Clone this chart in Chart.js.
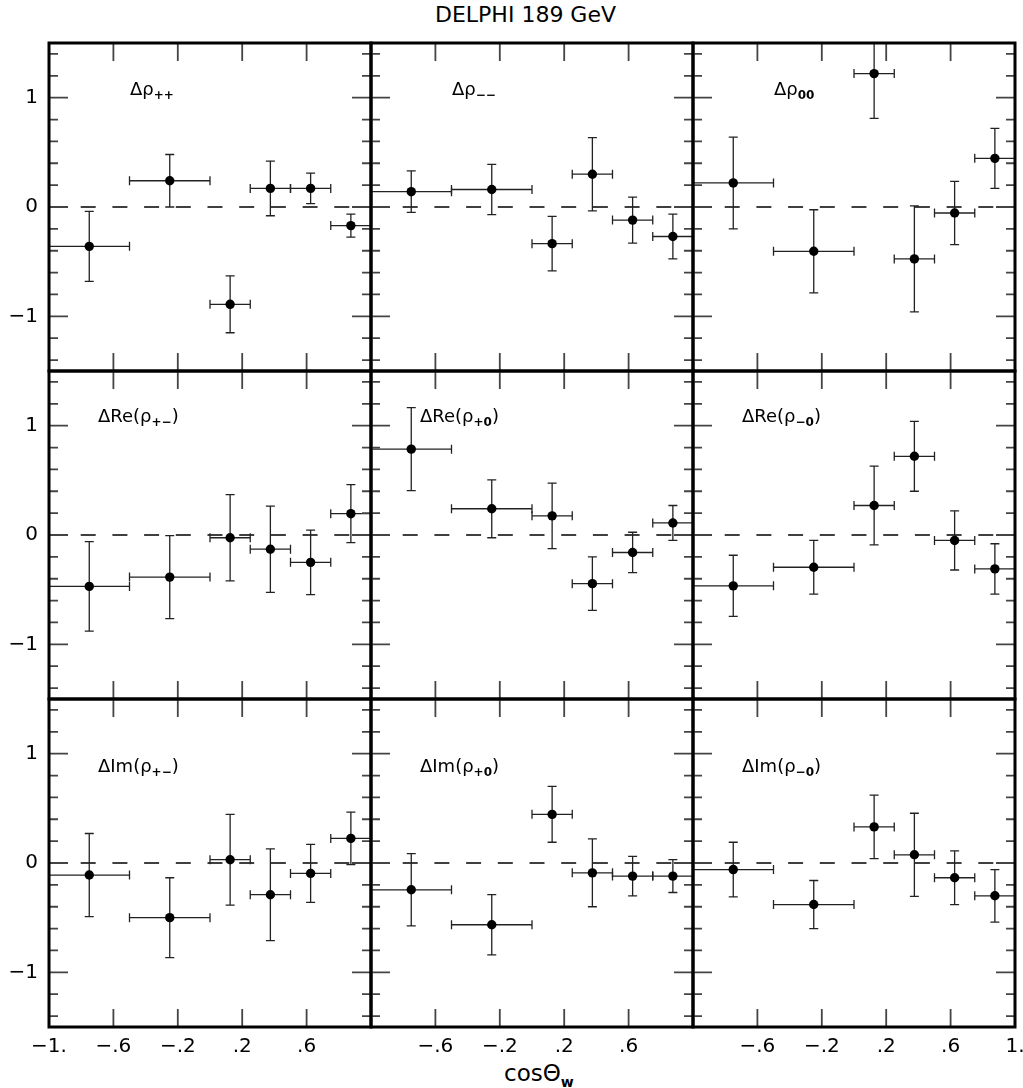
<!DOCTYPE html>
<html>
<head>
<meta charset="utf-8">
<script src="https://cdn.jsdelivr.net/npm/chart.js@4/dist/chart.umd.min.js"></script>
<style>
  body { margin: 0; background: #fff; }
  #fig { position: relative; width: 1023px; height: 1088px; font-family: "DejaVu Sans", sans-serif; color: #000; }
  #fig canvas { position: absolute; }
  .lbl { position: absolute; font-size: 18px; line-height: 18px; white-space: nowrap; }
  .lbl sub { font-size: 12px; font-weight: bold; vertical-align: baseline; position: relative; top: 0.35em; }
  #title { position: absolute; left: 435px; top: 4px; font-size: 22px; line-height: 22px; }
  #xtitle { position: absolute; left: 504px; top: 1062px; font-size: 23px; line-height: 23px; }
  #xtitle sub { font-size: 14px; font-weight: bold; vertical-align: baseline; position: relative; top: 0.4em; }
</style>
</head>
<body>
<div id="fig">
  <div id="title">DELPHI 189 GeV</div>
  <div id="xtitle">cosΘ<sub>w</sub></div>
</div>
<script>
// cos(theta_W) bins
const binLo = [-1, -0.5, 0, 0.25, 0.5, 0.75];
const binHi = [-0.5, 0, 0.25, 0.5, 0.75, 1];
const binMid = [-0.75, -0.25, 0.125, 0.375, 0.625, 0.875];

const xTickValues = [-1, -0.6, -0.2, 0.2, 0.6, 1];
const yTickValues = [-1.4, -1.2, -1, -0.8, -0.6, -0.4, -0.2, 0, 0.2, 0.4, 0.6, 0.8, 1, 1.2, 1.4];
const yTickLabels = { '-1': '−1', '0': '0', '1': '1' };

const rhoPP = [-0.36, 0.24, -0.89, 0.17, 0.17, -0.17];
const rhoPPErr = [0.32, 0.24, 0.26, 0.25, 0.14, 0.105];
const rhoMM = [0.14, 0.16, -0.335, 0.30, -0.12, -0.27];
const rhoMMErr = [0.19, 0.23, 0.25, 0.335, 0.21, 0.205];
const rho00 = [0.22, -0.405, 1.22, -0.475, -0.055, 0.445];
const rho00Err = [0.42, 0.38, 0.41, 0.485, 0.29, 0.275];

const reRhoPM = [-0.47, -0.385, -0.025, -0.13, -0.25, 0.195];
const reRhoPMErr = [0.41, 0.38, 0.395, 0.395, 0.295, 0.265];
const reRhoP0 = [0.785, 0.24, 0.175, -0.445, -0.16, 0.11];
const reRhoP0Err = [0.38, 0.265, 0.30, 0.245, 0.185, 0.16];
const reRhoM0 = [-0.465, -0.295, 0.27, 0.72, -0.05, -0.31];
const reRhoM0Err = [0.28, 0.245, 0.36, 0.32, 0.27, 0.23];

const imRhoPM = [-0.11, -0.50, 0.03, -0.29, -0.095, 0.225];
const imRhoPMErr = [0.38, 0.365, 0.415, 0.42, 0.265, 0.24];
const imRhoP0 = [-0.245, -0.565, 0.445, -0.09, -0.12, -0.12];
const imRhoP0Err = [0.33, 0.275, 0.255, 0.31, 0.18, 0.15];
const imRhoM0 = [-0.06, -0.38, 0.33, 0.075, -0.135, -0.30];
const imRhoM0Err = [0.25, 0.22, 0.29, 0.38, 0.245, 0.24];

const panelLabels = [
  'Δρ<sub>++</sub>', 'Δρ<sub>−−</sub>', 'Δρ<sub>00</sub>',
  'ΔRe(ρ<sub>+−</sub>)', 'ΔRe(ρ<sub>+0</sub>)', 'ΔRe(ρ<sub>−0</sub>)',
  'ΔIm(ρ<sub>+−</sub>)', 'ΔIm(ρ<sub>+0</sub>)', 'ΔIm(ρ<sub>−0</sub>)'
];
const panelValues = [rhoPP, rhoMM, rho00, reRhoPM, reRhoP0, reRhoM0, imRhoPM, imRhoP0, imRhoM0];
const panelErrors = [rhoPPErr, rhoMMErr, rho00Err, reRhoPMErr, reRhoP0Err, reRhoM0Err, imRhoPMErr, imRhoP0Err, imRhoM0Err];

const FIG_LEFT = 49, FIG_TOP = 43, PANEL_W = 322, PANEL_H = 328;
const AXIS_W = 50, AXIS_H = 56, PAD_TOP = 6, PAD_RIGHT = 20;
const labelOffset = [[81, 37], [49, 36], [49, 58]];

const errorBars = {
  id: 'errorBars',
  beforeDatasetsDraw(chart) {
    const { ctx, chartArea: a, scales: { x, y } } = chart;
    ctx.save();
    ctx.beginPath();
    ctx.rect(a.left, a.top, a.right - a.left, a.bottom - a.top);
    ctx.clip();

    const y0 = y.getPixelForValue(0);
    ctx.setLineDash([15, 16.7]);
    ctx.strokeStyle = '#000';
    ctx.lineWidth = 1.5;
    ctx.beginPath();
    ctx.moveTo(a.left, y0);
    ctx.lineTo(a.right, y0);
    ctx.stroke();
    ctx.setLineDash([]);

    const cap = 4.5;
    ctx.strokeStyle = '#222';
    ctx.lineWidth = 1.3;
    chart.data.datasets[0].data.forEach(p => {
      const px = x.getPixelForValue(p.x), py = y.getPixelForValue(p.y);
      const xl = x.getPixelForValue(p.xlo), xr = x.getPixelForValue(p.xhi);
      const yt = y.getPixelForValue(p.y + p.err), yb = y.getPixelForValue(p.y - p.err);
      ctx.beginPath();
      ctx.moveTo(xl, py); ctx.lineTo(xr, py);
      ctx.moveTo(xl, py - cap); ctx.lineTo(xl, py + cap);
      ctx.moveTo(xr, py - cap); ctx.lineTo(xr, py + cap);
      ctx.moveTo(px, yt); ctx.lineTo(px, yb);
      ctx.moveTo(px - cap, yt); ctx.lineTo(px + cap, yt);
      ctx.moveTo(px - cap, yb); ctx.lineTo(px + cap, yb);
      ctx.stroke();
    });
    ctx.restore();
  },
  afterDraw(chart) {
    const { ctx, chartArea: a, scales: { x, y } } = chart;
    ctx.save();
    ctx.strokeStyle = '#444';
    ctx.lineWidth = 1.8;
    ctx.beginPath();
    y.ticks.forEach(t => {
      const py = y.getPixelForValue(t.value);
      const len = Math.abs(t.value - Math.round(t.value)) < 1e-6 ? 19 : 9;
      ctx.moveTo(a.left, py); ctx.lineTo(a.left + len, py);
      ctx.moveTo(a.right, py); ctx.lineTo(a.right - len, py);
    });
    x.ticks.forEach(t => {
      if (Math.abs(t.value) > 0.95) return;
      const px = x.getPixelForValue(t.value);
      ctx.moveTo(px, a.top); ctx.lineTo(px, a.top + 18);
      ctx.moveTo(px, a.bottom); ctx.lineTo(px, a.bottom - 18);
    });
    ctx.stroke();
    ctx.strokeStyle = '#000';
    ctx.lineWidth = 3;
    ctx.strokeRect(a.left, a.top, a.right - a.left, a.bottom - a.top);
    ctx.restore();
  }
};

function xLabel(v, col) {
  if (Math.abs(v + 1) < 1e-6) return col === 0 ? '−1.' : '';
  if (Math.abs(v - 1) < 1e-6) return col === 2 ? '1.' : '';
  const s = Math.abs(v).toFixed(1).replace(/^0/, '');
  return v < 0 ? '−' + s : s;
}

function yLabel(v) {
  const key = String(Math.round(v * 10) / 10);
  return yTickLabels[key] || '';
}

const fig = document.getElementById('fig');
const tickFont = { family: 'DejaVu Sans', size: 20 };

for (let i = 0; i < 9; i++) {
  const row = Math.floor(i / 3), col = i % 3;
  const pl = FIG_LEFT + PANEL_W * col, pt = FIG_TOP + PANEL_H * row;

  const canvas = document.createElement('canvas');
  canvas.width = AXIS_W + PANEL_W + PAD_RIGHT;
  canvas.height = PAD_TOP + PANEL_H + AXIS_H;
  canvas.style.left = (pl - AXIS_W) + 'px';
  canvas.style.top = (pt - PAD_TOP) + 'px';
  fig.appendChild(canvas);

  const lbl = document.createElement('div');
  lbl.className = 'lbl';
  lbl.innerHTML = panelLabels[i];
  lbl.style.left = (pl + labelOffset[row][0]) + 'px';
  lbl.style.top = (pt + labelOffset[row][1]) + 'px';
  fig.appendChild(lbl);

  const points = binMid.map((m, k) => ({
    x: m, y: panelValues[i][k], err: panelErrors[i][k], xlo: binLo[k], xhi: binHi[k]
  }));

  new Chart(canvas, {
    type: 'scatter',
    data: {
      datasets: [{
        data: points,
        pointRadius: 4.7,
        pointBackgroundColor: '#000',
        pointBorderWidth: 0
      }]
    },
    options: {
      responsive: false,
      animation: false,
      events: [],
      layout: { padding: { top: PAD_TOP, right: PAD_RIGHT, left: 0, bottom: 0 } },
      plugins: { legend: { display: false }, tooltip: { enabled: false } },
      scales: {
        x: {
          type: 'linear', min: -1, max: 1,
          grid: { display: false, drawTicks: false },
          border: { display: false },
          afterBuildTicks(s) { s.ticks = xTickValues.map(v => ({ value: v })); },
          ticks: {
            display: row === 2, autoSkip: false, maxRotation: 0,
            padding: 8, color: '#000', font: tickFont,
            callback: v => xLabel(v, col)
          },
          afterFit(s) { s.height = AXIS_H; s.paddingLeft = 0; s.paddingRight = 0; }
        },
        y: {
          type: 'linear', min: -1.5, max: 1.5,
          grid: { display: false, drawTicks: false },
          border: { display: false },
          afterBuildTicks(s) { s.ticks = yTickValues.map(v => ({ value: v })); },
          ticks: {
            display: col === 0, autoSkip: false,
            padding: 11, color: '#000', font: tickFont,
            callback: v => yLabel(v)
          },
          afterFit(s) { s.width = AXIS_W; s.paddingTop = 0; s.paddingBottom = 0; }
        }
      }
    },
    plugins: [errorBars]
  });
}
</script>
</body>
</html>
